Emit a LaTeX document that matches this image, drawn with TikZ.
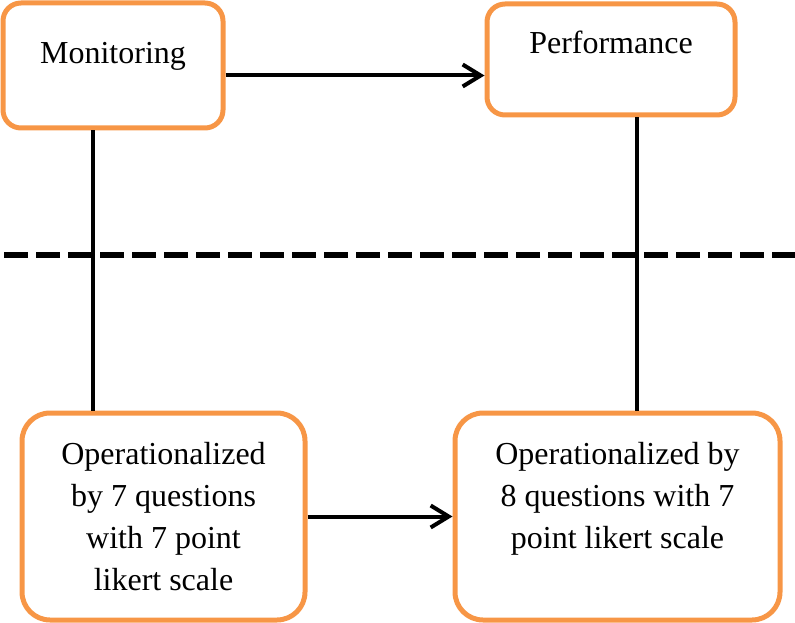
\documentclass[tikz,border=0pt]{standalone}
\usepackage{fontspec}
\setmainfont{Liberation Serif}
\usetikzlibrary{arrows.meta}
\definecolor{boxorange}{HTML}{F79646}
\newcommand{\boxtext}[2]{\parbox[c][149pt][t]{#1}{\centering #2}}
\begin{document}
\begin{tikzpicture}[x=1pt,y=-1pt]
    \tikzset{
      construct/.style={draw=boxorange,line width=5pt,rounded corners=18pt,
        inner sep=0pt,font=\fontsize{32}{42}\selectfont},
      measure/.style={construct,rounded corners=28pt,minimum width=#1,minimum height=207pt},
      link/.style={black,line width=4pt},
      arr/.style={link,-{Straight Barb[length=18pt,width=22pt,line width=4pt]}},
      divider/.style={black,line width=6pt,dash pattern=on 24pt off 8pt}
    }
    \useasboundingbox (0,0) rectangle (795,623);

    %CONSTRUCTS
    \node[construct,minimum width=220pt,minimum height=125pt,
      text height=24pt,text depth=27pt] (mon) at (113,65.5) {Monitoring};
    \node[construct,minimum width=248pt,minimum height=111pt,
      text height=20pt,text depth=31pt] (perf) at (611,59.5) {Performance};

    %MEASUREMENT
    \node[measure=283pt] (opmon) at (163.5,516.5)
      {\boxtext{260pt}{Operationalized\\ by 7 questions\\ with 7 point\\ likert scale}};
    \node[measure=325pt] (opperf) at (617.5,516.5)
      {\boxtext{300pt}{Operationalized by\\ 8 questions with 7\\ point likert scale}};

    %ARROWS
    \draw[arr] ([yshift=-10pt]mon.east) -- ([yshift=-10pt]mon.east -| perf.west);
    \draw[arr] (opmon.east) -- (opperf.west);

    \draw[link] ([xshift=-20pt]mon.south) -- ([xshift=-20pt]mon.south |- opmon.north);
    \draw[link] ([xshift=26pt]perf.south) -- ([xshift=26pt]perf.south |- opperf.north);

    %THEORY / MEASUREMENT
    \coordinate (dl) at (4,255);
    \coordinate (dr) at (795,255);
    \draw[divider] (dl) -- (dr);
\end{tikzpicture}
\end{document}
